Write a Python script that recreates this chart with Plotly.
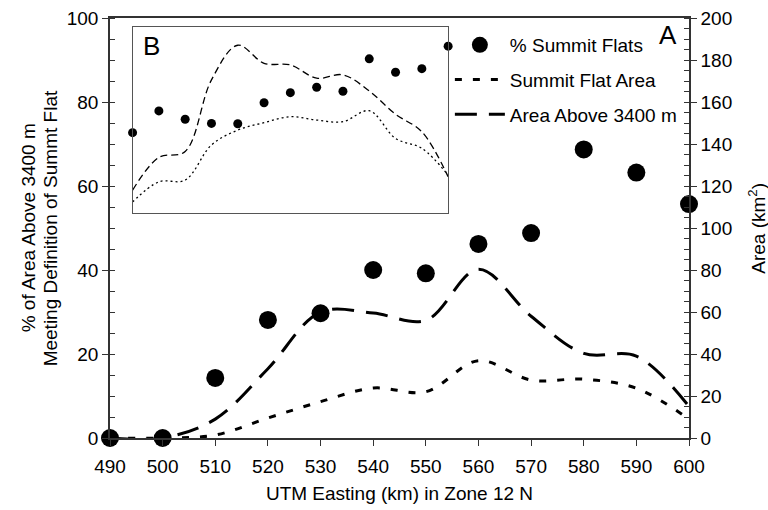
import plotly.graph_objects as go

# UTM easting (km) in zone 12 N
easting = [490, 500, 510, 520, 530, 540, 550, 560, 570, 580, 590, 600]
# % of area above 3400 m that meets the summit-flat definition
pct_summit_flats = [0, 0, 14.3, 28.1, 29.7, 40.0, 39.2, 46.2, 48.8, 68.7, 63.2, 55.7]
# areas in km^2
summit_flat_area = [0, 0, 1.4, 9.5, 17.3, 23.8, 22.0, 36.8, 27.6, 28.0, 23.7, 9.0]
area_above_3400 = [0, 0, 9.0, 33.0, 60.0, 59.5, 56.0, 80.3, 58.0, 40.3, 39.0, 15.0]

# inset B (relative units)
inset_x = list(range(13))
inset_pct = [43.1, 54.8, 50.3, 48.1, 47.9, 59.2, 64.6, 67.5, 65.4, 82.8, 75.6, 77.5, 89.6]
inset_area = [12.2, 29.8, 33.0, 71.5, 90.1, 80.4, 79.5, 72.4, 74.2, 65.5, 53.0, 43.6, 19.4]
inset_flat = [5.9, 16.7, 17.6, 36.5, 44.5, 48.5, 51.7, 49.9, 49.0, 54.9, 40.0, 34.7, 20.3]

FONT = "Liberation Sans, Arial, sans-serif"
INK = "#000000"
AX = "#333333"

fig = go.Figure()

fig.add_trace(go.Scatter(
    x=easting, y=pct_summit_flats, name="% Summit Flats", mode="markers",
    marker=dict(size=18, color=INK), cliponaxis=False, legendgroup="a",
))
fig.add_trace(go.Scatter(
    x=easting, y=summit_flat_area, name="Summit Flat Area", mode="lines",
    line=dict(color=INK, width=3, dash="7px,11px", shape="spline", smoothing=1.0),
    yaxis="y2", legendgroup="b",
))
fig.add_trace(go.Scatter(
    x=easting, y=area_above_3400, name="Area Above 3400 m", mode="lines",
    line=dict(color=INK, width=3, dash="22px,12px", shape="spline", smoothing=1.0),
    yaxis="y2", legendgroup="c",
))

# inset B
fig.add_trace(go.Scatter(
    x=inset_x, y=inset_area, mode="lines", showlegend=False,
    line=dict(color=INK, width=1.3, dash="7px,4px", shape="spline", smoothing=1.0),
    xaxis="x3", yaxis="y3",
))
fig.add_trace(go.Scatter(
    x=inset_x, y=inset_flat, mode="lines", showlegend=False,
    line=dict(color=INK, width=1.3, dash="2px,3px", shape="spline", smoothing=1.0),
    xaxis="x3", yaxis="y3",
))
fig.add_trace(go.Scatter(
    x=inset_x, y=inset_pct, mode="markers", showlegend=False,
    marker=dict(size=9, color=INK), cliponaxis=False,
    xaxis="x3", yaxis="y3",
))

tickfont = dict(family=FONT, size=19, color=INK)

fig.update_layout(
    width=768, height=510,
    margin=dict(l=110, r=79, t=18, b=72, autoexpand=False),
    paper_bgcolor="white", plot_bgcolor="white",
    font=dict(family=FONT, size=19, color=INK),
    showlegend=True,
    legend=dict(
        x=0.587, y=0.981, xanchor="left", yanchor="top",
        bgcolor="rgba(0,0,0,0)", borderwidth=0,
        font=dict(family=FONT, size=19, color=INK),
        itemwidth=50, tracegroupgap=7, traceorder="grouped",
    ),
    xaxis=dict(
        range=[490, 600], tickmode="array", tickvals=easting, automargin=False,
        ticks="outside", ticklen=6, tickwidth=1, tickcolor=AX, ticklabelstandoff=4,
        showline=True, linewidth=2, linecolor=AX, mirror=True,
        showgrid=False, zeroline=False, tickfont=tickfont,
        title=dict(text="UTM Easting (km) in Zone 12 N", font=tickfont, standoff=11),
    ),
    yaxis=dict(
        range=[0, 100], dtick=20, automargin=False,
        ticks="outside", ticklen=6, tickwidth=1, tickcolor=AX,
        minor=dict(dtick=5, ticks="inside", ticklen=5, tickcolor=AX, showgrid=False),
        showline=True, linewidth=1.5, linecolor=AX,
        showgrid=False, zeroline=False, tickfont=tickfont,
    ),
    yaxis2=dict(
        range=[0, 200], dtick=20, overlaying="y", side="right", anchor="x",
        automargin=False,
        ticks="outside", ticklen=6, tickwidth=1, tickcolor=AX,
        minor=dict(dtick=5, ticks="inside", ticklen=5, tickcolor=AX, showgrid=False),
        showline=True, linewidth=1.5, linecolor=AX,
        showgrid=False, zeroline=False, tickfont=tickfont,
    ),
    xaxis3=dict(
        domain=[0.039, 0.584], range=[0, 12], anchor="y3",
        showline=True, linewidth=1, linecolor="#555555", mirror=True,
        showticklabels=False, ticks="", showgrid=False, zeroline=False,
    ),
    yaxis3=dict(
        domain=[0.536, 0.979], range=[0, 100], anchor="x3",
        showline=True, linewidth=1, linecolor="#555555", mirror=True,
        showticklabels=False, ticks="", showgrid=False, zeroline=False,
    ),
    annotations=[
        # left axis title, two rotated lines
        dict(text="% of Area Above 3400 m", x=-0.141, y=0.5, xref="paper", yref="paper",
             xanchor="center", yanchor="middle", textangle=-90, showarrow=False,
             font=tickfont),
        dict(text="Meeting Definition of Summt Flat", x=-0.103, y=0.5,
             xref="paper", yref="paper", xanchor="center", yanchor="middle",
             textangle=-90, showarrow=False, font=tickfont),
        # right axis title
        dict(text="Area (km<sup>2</sup>)", x=1.117, y=0.5, xref="paper", yref="paper",
             xanchor="center", yanchor="middle", textangle=-90, showarrow=False,
             font=tickfont),
        # panel letters
        dict(text="A", x=0.964, y=0.96, xref="paper", yref="paper",
             xanchor="center", yanchor="middle",
             showarrow=False, font=dict(family=FONT, size=26, color=INK)),
        dict(text="B", x=0.0725, y=0.933, xref="paper", yref="paper",
             xanchor="center", yanchor="middle",
             showarrow=False, font=dict(family=FONT, size=26, color=INK)),
    ],
)

fig.write_html("out.html")
